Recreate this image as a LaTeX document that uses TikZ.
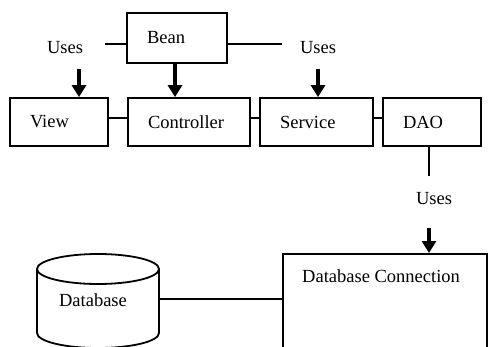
\documentclass[tikz,border=0pt]{standalone}
\usepackage{fontspec}
\setmainfont{Liberation Serif}
\usetikzlibrary{arrows.meta}
\begin{document}
\begin{tikzpicture}[x=1pt,y=-1pt,
        font=\fontsize{18.5}{22}\selectfont,
        box/.style={draw, line width=1.8pt, align=left, inner xsep=20pt, inner ysep=0pt, minimum height=48pt},
        link/.style={draw, line width=1.8pt},
        uses/.style={draw, line width=3.2pt, -{Triangle[width=14pt,length=12pt]}}]
        \clip (0,0) rectangle (489,347);

        \node[box, text width=60pt, minimum height=50pt] (bean) at (177,38) {Bean};
        \node[box, text width=58pt] (view) at (59,122) {View};
        \node[box, text width=82pt] (ctrl) at (189,122) {Controller};
        \node[box, text width=73pt] (service) at (316.5,122) {Service};
        \node[box, text width=58pt] (dao) at (432,122) {DAO};

        \node[box, text width=164pt, minimum height=140pt, anchor=north west,
            label={[anchor=north west, inner sep=0pt, xshift=20pt, yshift=-16pt]north west:Database Connection}]
            (dbconn) at (282,253) {};

        % database cylinder
        \path[link] (98,269) ellipse [x radius=61pt, y radius=15pt];
        \path[link] (37,269) -- (37,333) arc [start angle=180, end angle=360, x radius=61pt, y radius=15pt] -- (159,269);
        \node (db) at (93,300) {Database};
        \coordinate (dbR) at (159,299);

        \node (usesL) at (65,48) {Uses};
        \node (usesR) at (318,48) {Uses};
        \node (usesD) at (434,199) {Uses};

        \coordinate (beanL) at (105,44);
        \coordinate (beanR) at (282,44);
        \coordinate (viewIn) at (79,69);
        \coordinate (serviceIn) at (318,69);
        \coordinate (daoOut) at (429,176);
        \coordinate (dbIn) at (429,228);

        \path[link] ([yshift=-6pt]bean.west) -- (beanL);
        \path[link] ([yshift=-6pt]bean.east) -- (beanR);
        \path[link] ([yshift=4pt]view.east) -- ([yshift=4pt]ctrl.west);
        \path[link] ([yshift=4pt]ctrl.east) -- ([yshift=4pt]service.west);
        \path[link] ([yshift=4pt]service.east) -- ([yshift=4pt]dao.west);
        \path[link] (daoOut |- dao.south) -- (daoOut);
        \path[link] (dbR) -- (dbconn.west |- dbR);

        \path[uses] ([xshift=-2pt]bean.south) -- ([xshift=-2pt]bean.south |- ctrl.north);
        \path[uses] (viewIn) -- (viewIn |- view.north);
        \path[uses] (serviceIn) -- (serviceIn |- service.north);
        \path[uses] (dbIn) -- (dbIn |- dbconn.north);

\end{tikzpicture}
\end{document}
